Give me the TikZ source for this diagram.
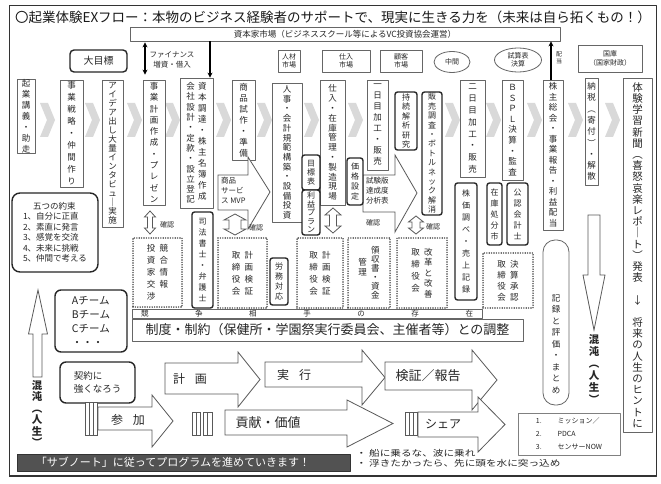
\documentclass[tikz,border=0pt]{standalone}
\usepackage{fontspec}
\setmainfont{Noto Sans CJK JP}
\newfontfamily\jpw[FakeStretch=1.25]{Noto Sans CJK JP}
\usetikzlibrary{shapes.geometric,arrows.meta}

\newcommand\VSend{\relax}
\def\vsA#1#2{\hbox to 1.05em{\hss#1\hss}\ifx#2\VSend\else\expandafter\vsA\expandafter#2\fi}
\newcommand\vs[2][10pt]{\vtop{\baselineskip=#1\relax\lineskiplimit=-30pt\lineskip=0pt\vsA#2\VSend}}
\newcommand\BX[7]{\node[#1,minimum width={(#5-#3)*1pt},minimum height={(#6-#4)*1pt}] (#2) at ({(#3+#5)/2},{(#4+#6)/2}) {#7};}
\newcommand\HA[7]{\draw[harrow] (#1,#2) -- (#3,#2) -- (#3,#5) -- (#7,{(#5+#6)/2}) -- (#3,#6) -- (#3,#4) -- (#1,#4) -- cycle;}
\newcommand\DA[6]{\draw[harrow] (#1,#2) -- (#1+#5,#2+#6) -- (#1+#4,#2+#6) -- (#1+#4,#3-#6) -- (#1+#5,#3-#6) -- (#1,#3) -- (#1-#5,#3-#6) -- (#1-#4,#3-#6) -- (#1-#4,#2+#6) -- (#1-#5,#2+#6) -- cycle;}
\newcommand\CV[1]{\fill[chev] (#1-7,103) -- (#1+1,103) -- (#1+8,120) -- (#1+1,137) -- (#1-7,137) -- (#1,120) -- cycle;}

\begin{document}
\begin{tikzpicture}[x=1pt,y=-1pt,line join=round,
 vb/.style={draw=black!60, line width=0.8pt, fill=white, inner sep=0pt, text=black!85, font=\fontsize{8.5}{10}\selectfont},
 tb/.style={draw=black!85, line width=1.4pt, rounded corners=2.5pt, fill=white, inner sep=0pt, text=black!85, font=\fontsize{8}{9.5}\selectfont},
 db/.style={draw=black!75, line width=1.6pt, dash pattern=on 0pt off 2.4pt, line cap=round, fill=white, inner sep=0pt, text=black!85, font=\fontsize{8.5}{10}\selectfont},
 hb/.style={draw=black!60, line width=0.8pt, fill=white, inner sep=1pt, align=center, text=black!85, font=\fontsize{7}{8.5}\selectfont},
 lbl/.style={inner sep=0pt, text=black!85, font=\fontsize{7}{8}\selectfont},
 harrow/.style={draw=black!65, line width=0.8pt, fill=white, line join=miter},
 chev/.style={fill=black!15},
 alab/.style={inner sep=0pt, text=black!85, font=\fontsize{12}{13}\selectfont}]
\useasboundingbox (0,0) rectangle (661,484);
\fill[white] (0,0) rectangle (661,484);
\draw[line width=0.9pt, black!80] (9,5) rectangle (656,476);
\draw[line width=2.2pt, black!80] (9,476) -- (656,476);

% title and header
\node[inner sep=0pt, text=black!90, font=\fontsize{13.5}{14}\selectfont] (title) at (333,17) {〇起業体験EXフロー：本物のビジネス経験者のサポートで、現実に生きる力を（未来は自ら拓くもの！）};
\BX{hb, font=\fontsize{8.5}{9}\selectfont}{hdr}{130}{27}{560}{41}{資本家市場（ビジネススクール等によるVC投資協会運営）}
\node[lbl, font=\fontsize{7.5}{10}\selectfont, align=center] (fin) at (172,60) {ファイナンス\\増資・借入};

% background chevrons
\CV{47}\CV{92}\CV{134}\CV{172}\CV{223}\CV{264}\CV{311}\CV{355}\CV{452}\CV{493}\CV{534}\CV{575}\CV{612}

% top small boxes
\BX{tb, rounded corners=4pt, font=\fontsize{10}{12}\selectfont}{daimoku}{70}{50}{127}{72}{大目標}
\BX{hb}{jinzai}{278}{50}{300}{72}{人材\\市場}
\BX{hb}{shiirem}{322}{50}{370}{72}{仕入\\市場}
\BX{hb}{kokyaku}{380}{50}{422}{72}{顧客\\市場}
\node[hb, ellipse, minimum width=36pt, minimum height=21pt] (chukan) at (452,62) {中間};
\node[hb, ellipse, minimum width=47pt, minimum height=24pt] (shisan) at (518,60) {試算表\\決算};
\BX{hb}{kokko}{578}{45}{642}{72}{国庫\\（国家財政）}

% main vertical boxes
\BX{vb}{kigyo}{17}{80}{35}{153}{\vs[11pt]{起業講義・助走}}
\BX{vb}{senryaku}{60}{80}{83}{187}{\vs[12pt]{事業戦略・仲間作り}}
\BX{vb}{idea}{102}{80}{123}{227}{\vs[9pt]{アイデア出し大量インタビュ｜実施}}
\BX{vb}{keikaku}{143}{80}{165}{205}{\vs[11.3pt]{事業計画作成・プレゼン}}
\BX{vb}{shihon}{180}{78}{213}{208}{\vs[10.3pt]{会社設計・定款・設立登記}\hspace{3pt}\vs[11pt]{資本調達・株主名簿作成}}
\BX{vb}{shohin}{232}{80}{255}{160}{\vs[11pt]{商品試作・準備}}
\BX{vb}{jinji}{272}{83}{302}{222}{\vs[9.7pt]{人事・会計規範構築・設備投資}}
\BX{vb}{shiire}{320}{80}{345}{205}{\vs[9.8pt]{仕入・在庫管理・製造現場}}
\BX{vb}{ichinichi}{367}{80}{388}{170}{\vs[11pt]{一日目加工・販売}}
\BX{vb}{futsuka}{460}{80}{485}{177}{\vs[11.8pt]{二日目加工・販売}}
\BX{vb}{bspl}{502}{80}{523}{180}{\vs[10.6pt]{ＢＳＰＬ決算・監査}}
\BX{vb}{kabunushi}{543}{80}{563}{230}{\vs[10.5pt]{株主総会・事業報告・利益配当}}
\BX{vb}{nozei}{585}{78}{598}{185}{\vs[11.3pt]{納税︵寄付︶・解散}}
\BX{vb, font=\fontsize{10.5}{12}\selectfont}{shinbun}{623}{78}{652}{432}{\vs[11.2pt]{体験学習新聞︵喜怒哀楽レポ｜ト︶発表　↓　将来の人生のヒントに}}

% connectors to header
\coordinate (xa) at (145,0);
\coordinate (xb) at (210,0);
\coordinate (xc) at (551,0);
\draw[{Stealth[length=5pt,width=5pt]}-{Stealth[length=5pt,width=5pt]}, line width=1.3pt, shorten <=1pt, shorten >=5pt] (hdr.south -| xa) -- (keikaku.north -| xa);
\draw[-{Stealth[length=5pt,width=5pt]}, line width=1.2pt] (hdr.south -| xb) -- (shihon.north -| xb);
\draw[-{Stealth[length=5pt,width=5pt]}, line width=1.2pt] (kabunushi.north -| xc) -- (hdr.south -| xc);
\node[lbl, font=\fontsize{6}{7}\selectfont] (haito) at (559,58) {\vs[7pt]{配当}};

% hollow arrows inside main row
\draw[harrow] (218,175) -- (248,175) -- (248,157) -- (270,192) -- (248,229) -- (248,210) -- (218,210) -- cycle;
\node[lbl, font=\fontsize{7.5}{10}\selectfont, align=left, anchor=north west] (mvp) at (221,177) {商品\\サービ\\ス MVP};
\draw[harrow] (363,175) -- (395,175) -- (395,155) -- (417,193) -- (395,232) -- (395,212) -- (363,212) -- cycle;
\node[lbl, font=\fontsize{7.5}{10}\selectfont, align=left, anchor=north west] (shiken) at (366,177) {試験版\\達成度\\分析表};

% thick boxes
\BX{tb}{jizoku}{395}{92}{417}{150}{\vs[9.5pt]{持続解析研究}}
\BX{tb}{hanbai}{422}{92}{442}{215}{\vs[9.4pt]{販売調査・ボトルネック解消}}
\BX{tb}{mokuhyo}{302}{155}{320}{190}{\vs[9pt]{目標表}}
\BX{tb}{rieki}{302}{190}{320}{235}{\vs[8.5pt]{利益プラン}}
\BX{tb}{kakaku}{347}{158}{363}{205}{\vs[10pt]{価格設定}}
\BX{tb}{shiho}{192}{212}{213}{308}{\vs[11pt]{司法書士・弁護士}}
\BX{tb}{romu}{270}{258}{288}{305}{\vs[10pt]{労務対応}}
\BX{tb}{kabuka}{455}{183}{477}{300}{\vs[12pt]{株価調べ・売上記録}}
\BX{tb}{zaiko}{487}{183}{502}{245}{\vs[11pt]{在庫処分市}}
\BX{tb}{kaikei}{507}{183}{528}{245}{\vs[11pt]{公認会計士}}

% double arrows and labels
\DA{150}{211}{234}{2.5}{5.5}{6}
\DA{235}{214}{235}{6}{11}{6}
\DA{333}{208}{233}{3.5}{8}{7}
\DA{416}{216}{234}{4}{7.5}{6}
\node[lbl] (kak1) at (167,225) {確認};
\node[lbl] (kak2) at (256,228) {確認};
\node[lbl] (kak3) at (373,223) {確認};
\node[lbl] (kak4) at (433,227) {確認};

% dotted boxes
\BX{db}{kyogo}{133}{238}{182}{307}{\vs[12pt]{投資家交渉}\hspace{4pt}\vs[12pt]{競合情報}}
\BX{db}{torishimari1}{218}{238}{267}{308}{\vs[12pt]{取締役会}\hspace{4pt}\vs[12pt]{計画検証}}
\BX{db}{torishimari2}{297}{238}{343}{308}{\vs[12pt]{取締役会}\hspace{4pt}\vs[12pt]{計画検証}}
\BX{db}{ryoshu}{348}{238}{390}{308}{\raisebox{-12pt}{\vs[10pt]{管理}}\hspace{4pt}\vs[9pt]{領収書・資金}}
\BX{db}{kaikaku}{397}{238}{447}{308}{\vs[12pt]{取締役会}\hspace{4pt}\vs[10.5pt]{改革と改善}}
\BX{db}{kessan}{483}{253}{533}{308}{\vs[11pt]{取締役会}\hspace{4pt}\vs[11pt]{決算承認}}

% bars
\BX{hb, inner sep=0pt, font=\fontsize{7.5}{8}\selectfont}{kyoso}{132}{309}{482}{318}{\makebox[332pt]{競\hfill 争\hfill 相\hfill 手\hfill の\hfill 存\hfill 在}}
\BX{hb, font=\fontsize{13}{14}\selectfont}{seido}{132}{319}{523}{341}{制度・制約（保健所・学園祭実行委員会、主催者等）との調整}

% left side
\BX{tb, rounded corners=8pt, align=left, font=\fontsize{8.5}{10.5}\selectfont}{yakusoku}{12}{193}{98}{272}{\hspace*{10pt}五つの約束\\1、自分に正直\\2、素直に発言\\3、感覚を交流\\4、未来に挑戦\\5、仲間で考える}
\BX{tb, rounded corners=6pt, align=left, font=\fontsize{10.5}{14}\selectfont}{team}{55}{290}{127}{352}{Aチーム\\Bチーム\\Cチーム\\・・・}
\BX{tb, rounded corners=6pt, align=left, font=\fontsize{9.5}{13}\selectfont}{keiyaku}{60}{362}{135}{403}{契約に\\強くなろう}
\draw[harrow] (38,290) -- (47.5,334) -- (42,334) -- (42,377) -- (33,377) -- (33,334) -- (28.5,334) -- cycle;
\node[lbl, font=\fontsize{10.5}{12}\selectfont\bfseries, anchor=north] (konton1) at (37,380) {\vs[11.5pt]{混沌︵人生︶}};

% right side
\BX{vb, rounded corners=12pt}{kiroku}{543}{240}{569}{405}{}
\node[lbl, font=\fontsize{8.5}{10}\selectfont, anchor=north] (kirokut) at (556,294) {\vs[11.5pt]{記録と評価・まとめ}};
\draw[harrow] (588,215) -- (600,215) -- (600,275) -- (605,275) -- (594,330) -- (583,275) -- (588,275) -- cycle;
\node[lbl, font=\fontsize{10.5}{12}\selectfont\bfseries, anchor=north] (konton2) at (594,334) {\vs[12pt]{混沌︵人生︶}};
\BX{hb, draw=black!50, font=\fontsize{7}{13}\selectfont}{mission}{518}{413}{620}{455}{\begin{tabular}{@{}l@{\hspace{16pt}}l@{}}1.&ミッション／\\2.&PDCA\\3.&センサーNOW\end{tabular}}

% process arrows row 1
\HA{165}{363}{238}{394}{352}{407}{260}
\node[alab] (keikakut) at (190,379) {計\hspace{10pt}画};
\HA{265}{362}{362}{387}{350}{405}{385}
\node[alab] (jikkot) at (294,375) {実\hspace{10pt}行};
\HA{385}{362}{472}{390}{350}{410}{497}
\node[alab, font=\fontsize{13}{14}\selectfont] (kenshot) at (428,376) {検証／報告};
% row 2
\draw[harrow] (85,402) rectangle (97,435);
\draw[black!65, line width=0.6pt] (89,402) -- (89,435) (93,402) -- (93,435);
\HA{98}{407}{152}{430}{395}{447}{173}
\node[alab] (sankat) at (128,420) {参\hspace{10pt}加};
\draw[harrow] (192,412) rectangle (200,435);
\draw[harrow] (203,412) rectangle (212,435);
\draw[black!65, line width=0.6pt] (196,412) -- (196,435) (207.5,412) -- (207.5,435);
\HA{225}{410}{347}{435}{400}{447}{393}
\node[alab, font=\fontsize{13}{14}\selectfont] (kokent) at (268,423) {貢献・価値};
\draw[harrow] (405,412) rectangle (417,435);
\draw[black!65, line width=0.6pt] (409,412) -- (409,435) (413,412) -- (413,435);
\HA{418}{412}{478}{437}{397}{452}{505}
\node[alab] (sheat) at (443,424) {シェア};

% bottom bar and notes
\BX{draw=black!80, fill=black!68, inner sep=0pt}{bar}{17}{454}{350}{471}{}
\node[inner sep=0pt, text=white, font=\fontsize{11}{12}\selectfont] (bart) at (173,462.5) {「サブノート」に従ってプログラムを進めていきます！};
\node[lbl, font=\jpw\fontsize{8.5}{10}\selectfont, align=left, anchor=north west] (notes) at (356,449) {・ 船に乗るな、波に乗れ\\・ 浮きたかったら、先に頭を水に突っ込め};
\end{tikzpicture}
\end{document}
